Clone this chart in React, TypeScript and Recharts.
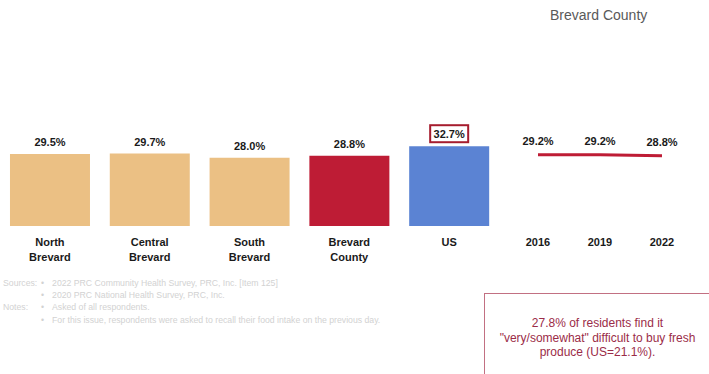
import React from "react";
import { BarChart, Bar, Cell, XAxis, YAxis, LabelList, LineChart, Line } from "recharts";

const areas = ["North\nBrevard", "Central\nBrevard", "South\nBrevard", "Brevard\nCounty", "US"];
const areaValues = [29.5, 29.7, 28.0, 28.8, 32.7];
const areaColors = ["#ebc084", "#ebc084", "#ebc084", "#be1c35", "#5b83d3"];

const years = ["2016", "2019", "2022"];
const yearValues = [29.2, 29.2, 28.8];

const barData = areas.map((name, i) => ({ name, value: areaValues[i] }));
const lineData = years.map((year, i) => ({ year, value: yearValues[i] }));

const font = "'Liberation Sans', Arial, sans-serif";
const chartMargin = { top: 104, right: 0, bottom: 0, left: 0 };

function AreaTick(props: any) {
  const { x, y, payload } = props;
  const lines = String(payload.value).split("\n");
  return (
    <text x={x} y={y + 12} textAnchor="middle" fontFamily={font} fontSize={11} fontWeight="bold" fill="#1a1a1a">
      {lines.map((l, i) => (
        <tspan key={i} x={x} dy={i === 0 ? 0 : 15}>
          {l}
        </tspan>
      ))}
    </text>
  );
}

function ValueLabel(props: any) {
  const { x, y, width, value, index } = props;
  const cx = x + width / 2;
  const boxed = index === 4;
  return (
    <g>
      {boxed && <rect x={cx - 19} y={y - 21} width={38} height={17} fill="none" stroke="#a61c2e" strokeWidth={2} />}
      <text x={cx} y={y - 8} textAnchor="middle" fontFamily={font} fontSize={11} fontWeight="bold" fill="#1a1a1a">
        {value.toFixed(1)}%
      </text>
    </g>
  );
}

function LineValueLabel(props: any) {
  const { x, y, value } = props;
  return (
    <text x={x} y={y - 10} textAnchor="middle" fontFamily={font} fontSize={11} fontWeight="bold" fill="#1a1a1a">
      {value.toFixed(1)}%
    </text>
  );
}

export default function App() {
  return (
    <div style={{ position: "absolute", left: 0, top: 0, width: 709, height: 374, background: "#fff", overflow: "hidden", fontFamily: font }}>
      <div style={{ position: "absolute", left: 550, top: 7, fontSize: 14, color: "#595959" }}>Brevard County</div>

      <div style={{ position: "absolute", left: 0, top: 0 }}>
        <BarChart width={499} height={270} data={barData} margin={chartMargin} barCategoryGap="10%">
          <XAxis dataKey="name" axisLine={false} tickLine={false} interval={0} height={44} tick={<AreaTick />} />
          <YAxis hide domain={[0, 50]} />
          <Bar dataKey="value" isAnimationActive={false}>
            {barData.map((d, i) => (
              <Cell key={d.name} fill={areaColors[i]} />
            ))}
            <LabelList dataKey="value" content={<ValueLabel />} />
          </Bar>
        </BarChart>
      </div>

      <div style={{ position: "absolute", left: 500, top: 0 }}>
        <LineChart width={200} height={270} data={lineData} margin={{ ...chartMargin, left: 38, right: 38 }}>
          <XAxis dataKey="year" axisLine={false} tickLine={false} height={44}
            tick={{ fontFamily: font, fontSize: 11, fontWeight: "bold", fill: "#1a1a1a", dy: 4 }} />
          <YAxis hide domain={[0, 50]} />
          <Line dataKey="value" stroke="#be1c35" strokeWidth={3} dot={false} isAnimationActive={false}>
            <LabelList dataKey="value" content={<LineValueLabel />} />
          </Line>
        </LineChart>
      </div>

      <div style={{ position: "absolute", left: 3, top: 277, fontSize: 8.7, lineHeight: "12.2px", color: "#d2d2d2" }}>
        <div style={{ position: "absolute", left: 0, top: 0 }}>Sources:</div>
        <div style={{ position: "absolute", left: 0, top: 24.4 }}>Notes:</div>
        {[
          "2022 PRC Community Health Survey, PRC, Inc. [Item 125]",
          "2020 PRC National Health Survey, PRC, Inc.",
          "Asked of all respondents.",
          "For this issue, respondents were asked to recall their food intake on the previous day.",
        ].map((t, i) => (
          <div key={i} style={{ position: "absolute", left: 38, top: i * 12.2, whiteSpace: "nowrap" }}>
            <span style={{ marginRight: 8 }}>•</span>
            {t}
          </div>
        ))}
      </div>

      <div style={{ position: "absolute", left: 484, top: 293, width: 240, height: 90, border: "1px solid #c27082", boxSizing: "border-box" }}>
        <div style={{ position: "absolute", left: 0, width: 225, top: 22, textAlign: "center", fontSize: 12, lineHeight: "14.5px", color: "#9b2c48" }}>
          27.8% of residents find it<br />"very/somewhat" difficult to buy fresh<br />produce (US=21.1%).
        </div>
      </div>
    </div>
  );
}
